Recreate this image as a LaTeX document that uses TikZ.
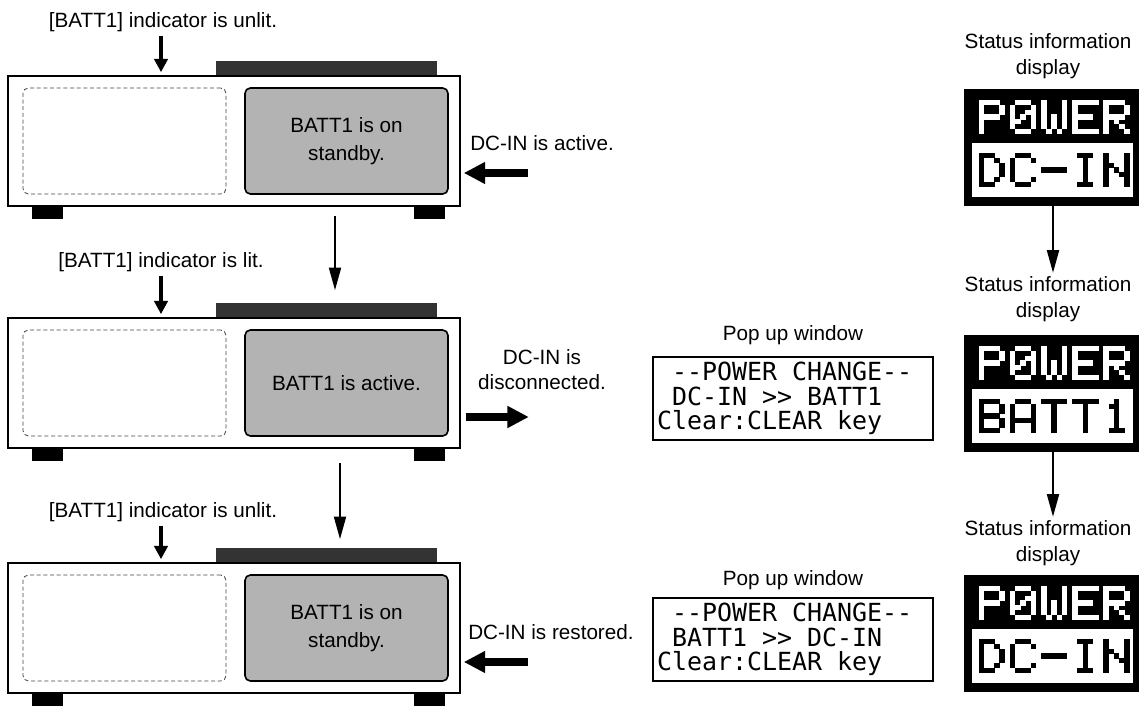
\documentclass[tikz,border=0pt]{standalone}
\usepackage{fontspec}
\setmainfont{Liberation Sans}
\newfontfamily\lcd{DejaVu Sans Mono}
\usetikzlibrary{arrows.meta,calc}

\definecolor{panelgray}{HTML}{B3B3B3}
\definecolor{bardark}{HTML}{333333}
\definecolor{dashgray}{HTML}{444444}

% pixel font
\def\pxw{5.2}\def\pxh{4.8}
\def\pixcell#1#2{\ifnum#2=1\relax\fill[\pixcol] ({\gx+#1*\pxw},{\gy+\rowi*\pxh}) rectangle ++({\pxw+0.4},{\pxh+0.4});\fi}
\def\pixrow#1#2#3#4#5{\pixcell{0}{#1}\pixcell{1}{#2}\pixcell{2}{#3}\pixcell{3}{#4}\pixcell{4}{#5}}
\newcommand\pixword[4]{%
  \def\pixcol{#3}%
  \foreach \g [count=\k from 0] in {#4}{%
    \pgfmathsetmacro\gx{#1+\k*6*\pxw}%
    \def\gy{#2}%
    \edef\curglyph{\g}%
    \foreach \rr [count=\rowi from 0] in \curglyph {\expandafter\pixrow\rr}%
  }}
\def\GlP{11110,10001,10001,11110,10000,10000,10000}
\def\GlZ{01110,10001,10011,10101,11001,10001,01110}
\def\GlW{10001,10001,10001,10101,10101,10101,01010}
\def\GlE{11111,10000,10000,11110,10000,10000,11111}
\def\GlR{11110,10001,10001,11110,10100,10010,10001}
\def\GlD{11100,10010,10001,10001,10001,10010,11100}
\def\GlC{01110,10001,10000,10000,10000,10001,01110}
\def\GlH{00000,00000,00000,11111,00000,00000,00000}
\def\GlI{01110,00100,00100,00100,00100,00100,01110}
\def\GlN{10001,10001,11001,10101,10011,10001,10001}
\def\GlB{11110,10001,10001,11110,10001,10001,11110}
\def\GlA{01110,10001,10001,10001,11111,10001,10001}
\def\GlT{11111,00100,00100,00100,00100,00100,00100}
\def\GlOne{00100,01100,00100,00100,00100,00100,01110}

% one monospace cell of blank space
\newcommand\lcdsp{\hphantom{-}}

\tikzset{
  lbl/.style={font=\fontsize{15.5}{20}\selectfont, inner sep=0pt, align=center},
  devbox/.style={draw, fill=white, line width=1.2pt, inner sep=0pt,
    minimum width={452*0.75pt}, minimum height={130*0.75pt}},
  slot/.style={draw=dashgray, line width=0.6pt, dash pattern=on 3pt off 2pt,
    rounded corners=4pt, inner sep=0pt, minimum width={203*0.75pt}, minimum height={106*0.75pt}},
  panel/.style={draw, fill=panelgray, line width=1.2pt, rounded corners=4pt, inner sep=0pt,
    minimum width={203*0.75pt}, minimum height={106*0.75pt}, align=center,
    font=\fontsize{15.5}{21}\selectfont},
  popbox/.style={draw, line width=1.1pt, inner ysep=0pt, inner xsep=3pt,
    text width=204pt, minimum height={83*0.75pt}, align=left,
    font=\lcd\fontsize{18.7}{18.4}\selectfont},
  statbox/.style={fill=black, inner sep=0pt, minimum width={175*0.75pt}, minimum height={117*0.75pt}},
  indarrow/.style={line width=2.6pt, -{Triangle[width=10pt,length=10pt]}},
  flowarrow/.style={line width=1.5pt, -{Triangle[width=9pt,length=17pt]}},
  thickarrow/.style={line width=6pt, -{Triangle[width=15.5pt,length=16pt]}},
}

\newcommand\device[3]{%
  \fill[bardark] (216,#2-15) rectangle (437,#2);
  \node[devbox] (dev#1) at (234,#2+65) {};
  \fill (32,#2+130) rectangle (63,#2+143);
  \fill (414,#2+130) rectangle (445,#2+143);
  \node[slot] (slot#1) at (124.5,#2+65) {};
  \node[panel] (panel#1) at (346.5,#2+65) {#3};
}

\newcommand\statdisp[3]{% name, top, lower word
  \node[statbox] (#1) at (1051.5,#2+58.5) {};
  \fill[white] (972,#2+54) rectangle (1133,#2+108);
  \pixword{978.6}{#2+11}{white}{\GlP,\GlZ,\GlW,\GlE,\GlR}
  \pixword{978.6}{#2+64}{black}{#3}
}

\begin{document}
\begin{tikzpicture}[x=0.75pt,y=-0.75pt]
\useasboundingbox (0,0) rectangle (1139,706);

% devices
\device{1}{76}{BATT1 is on\\standby.}
\device{2}{318}{BATT1 is active.}
\device{3}{563}{BATT1 is on\\standby.}

% indicator labels
\node[lbl] (lab1) at (163,22) {[BATT1] indicator is unlit.};
\node[lbl] (lab2) at (161,262) {[BATT1] indicator is lit.};
\node[lbl] (lab3) at (163,512) {[BATT1] indicator is unlit.};
\draw[indarrow] ($(lab1.south)+(-2,4)$) -- ($(dev1.north)+(-73,-3)$);
\draw[indarrow] ($(lab2.south)+(0,4)$) -- ($(dev2.north)+(-73,-3)$);
\draw[indarrow] ($(lab3.south)+(-2,4)$) -- ($(dev3.north)+(-73,-3)$);

% flow arrows between devices
\draw[flowarrow] ($(dev1.south)+(101,9)$) -- ($(dev2.north)+(101,-27)$);
\draw[flowarrow] ($(dev2.south)+(106,14)$) -- ($(dev3.north)+(106,-23)$);

% DC-IN labels and arrows
\node[lbl, anchor=west] (dc1) at (470,143) {DC-IN is active.};
\draw[thickarrow] ($(dev1.east)+(67,32)$) -- ($(dev1.east)+(3,32)$);
\node[lbl, font=\fontsize{15.5}{18.75}\selectfont] (dc2) at (542,370) {DC-IN is\\disconnected.};
\draw[thickarrow] ($(dev2.east)+(5,34)$) -- ($(dev2.east)+(68,34)$);
\node[lbl, anchor=west] (dc3) at (468,632) {DC-IN is restored.};
\draw[thickarrow] ($(dev3.east)+(67,34)$) -- ($(dev3.east)+(3,34)$);

% pop up windows
\node[lbl] (poplab2) at (793,335) {Pop up window};
\node[popbox] (pop2) at (793,398.5) {\lcdsp-{}-POWER\lcdsp CHANGE-{}-\\\lcdsp DC-IN\lcdsp>{}>\lcdsp BATT1\\Clear:CLEAR\lcdsp key};
\node[lbl] (poplab3) at (793,580) {Pop up window};
\node[popbox] (pop3) at (793,639.5) {\lcdsp-{}-POWER\lcdsp CHANGE-{}-\\\lcdsp BATT1\lcdsp>{}>\lcdsp DC-IN\\Clear:CLEAR\lcdsp key};

% status displays
\node[lbl, font=\fontsize{15.5}{20}\selectfont] (slab1) at (1048,56) {Status information\\display};
\statdisp{st1}{89}{\GlD,\GlC,\GlH,\GlI,\GlN}
\node[lbl, font=\fontsize{15.5}{20}\selectfont] (slab2) at (1048,299) {Status information\\display};
\statdisp{st2}{335}{\GlB,\GlA,\GlT,\GlT,\GlOne}
\node[lbl, font=\fontsize{15.5}{20}\selectfont] (slab3) at (1048,543) {Status information\\display};
\statdisp{st3}{575}{\GlD,\GlC,\GlH,\GlI,\GlN}

\draw[flowarrow] ($(st1.south)+(1.5,0)$) -- ($(slab2.north)+(5,-3)$);
\draw[flowarrow] ($(st2.south)+(1.5,0)$) -- ($(slab3.north)+(5,-3)$);
\end{tikzpicture}
\end{document}
